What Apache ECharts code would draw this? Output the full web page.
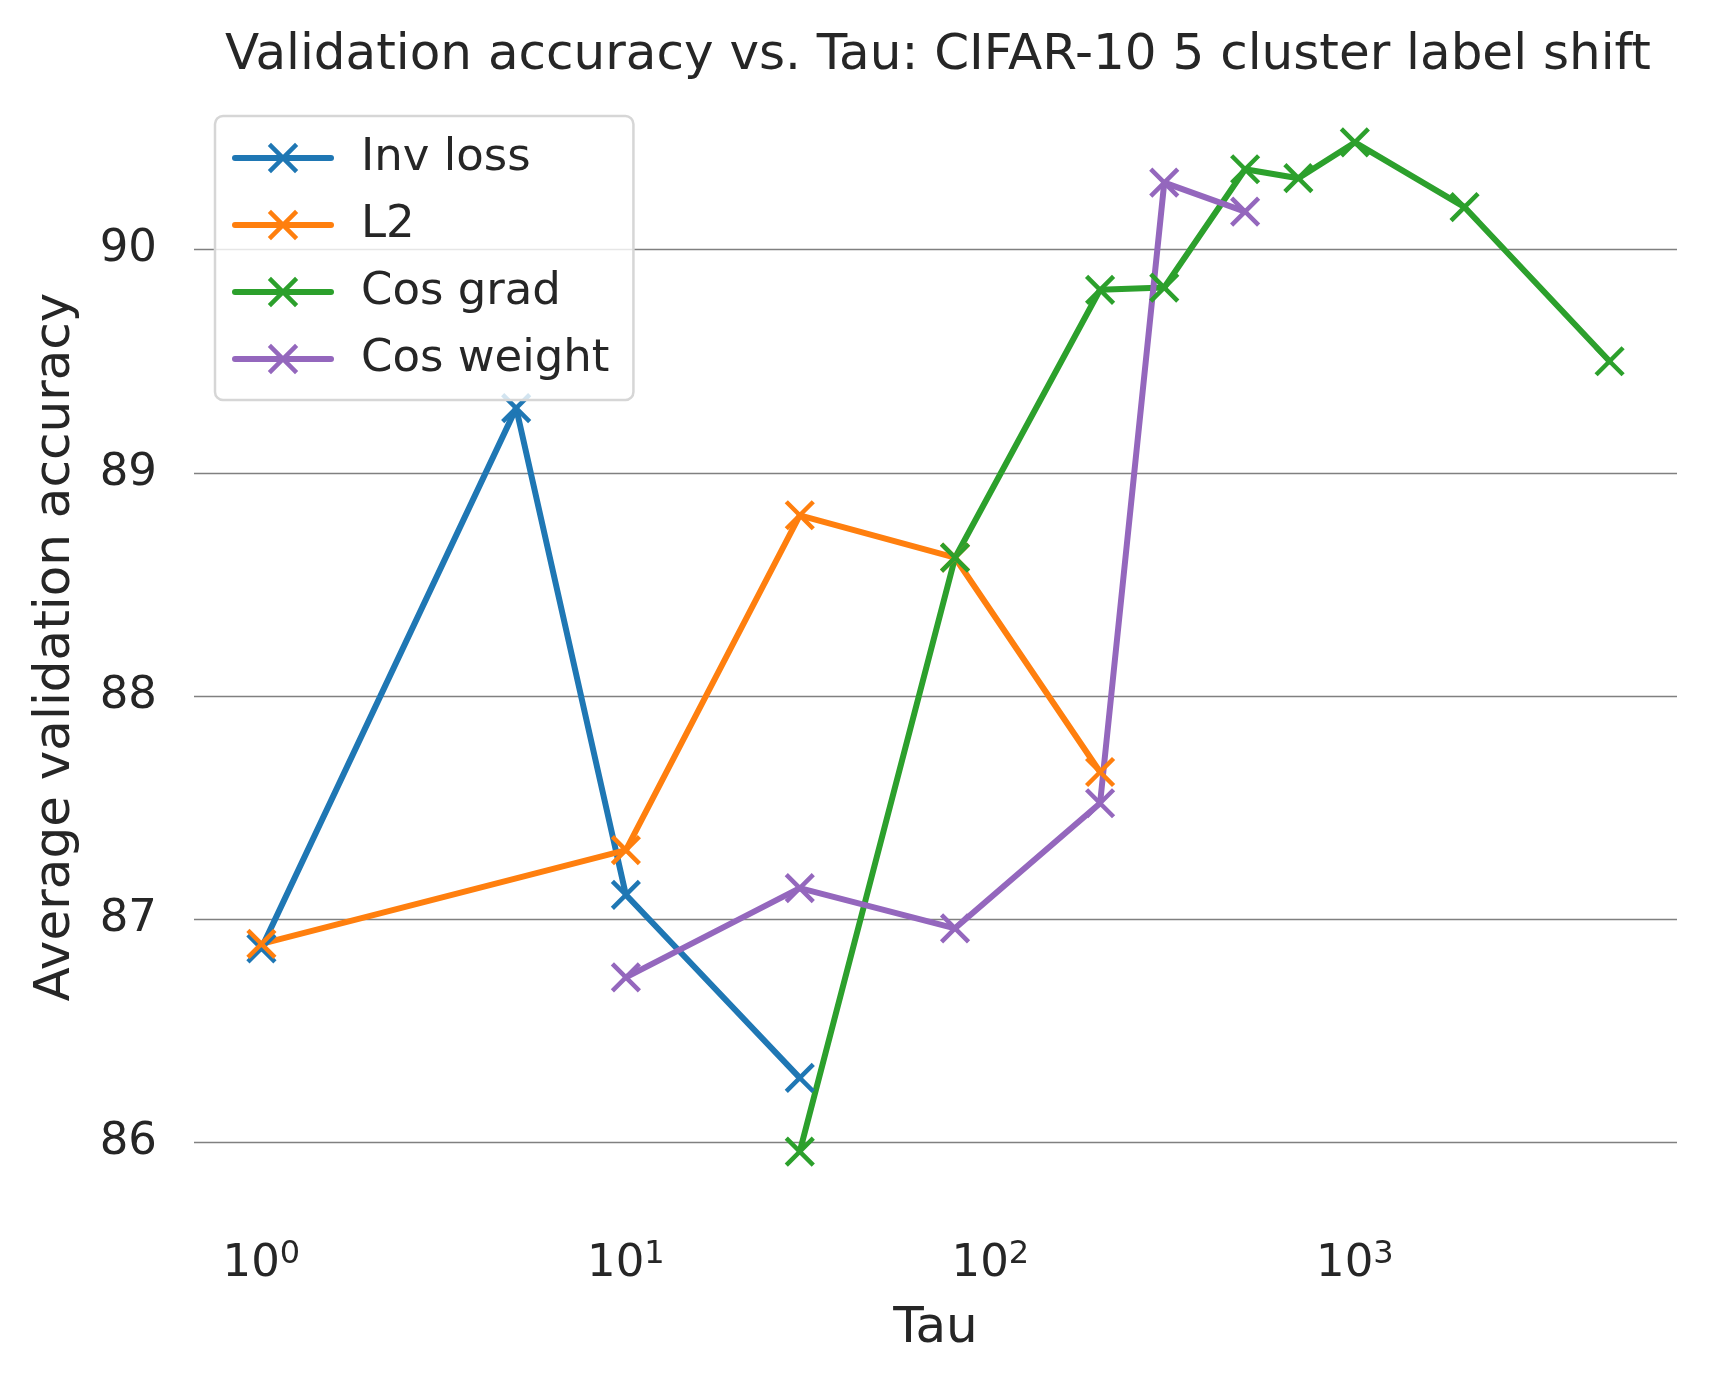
<!DOCTYPE html>
<html>
<head>
<meta charset="utf-8">
<script src="https://cdn.jsdelivr.net/npm/echarts@6/dist/echarts.min.js"></script>
<style>
html,body{margin:0;padding:0;background:#fff;}
#chart{width:1710px;height:1382px;}
</style>
</head>
<body>
<div id="chart"></div>
<script>
// ---- Data ----
const seriesNames = ['Inv loss', 'L2', 'Cos grad', 'Cos weight'];
const invLossTau = [1, 5, 10, 30];
const invLossAcc = [86.87, 89.29, 87.11, 86.29];
const l2Tau = [1, 10, 30, 80, 200];
const l2Acc = [86.89, 87.31, 88.81, 88.62, 87.66];
const cosGradTau = [30, 80, 200, 300, 500, 700, 1000, 2000, 5000];
const cosGradAcc = [85.96, 88.62, 89.82, 89.83, 90.36, 90.32, 90.48, 90.19, 89.50];
const cosWeightTau = [10, 30, 80, 200, 300, 500];
const cosWeightAcc = [86.74, 87.14, 86.96, 87.52, 90.30, 90.17];
const colors = ['#1f77b4', '#ff7f0e', '#2ca02c', '#9467bd'];
const titleText = 'Validation accuracy vs. Tau: CIFAR-10 5 cluster label shift';
const xName = 'Tau';
const yName = 'Average validation accuracy';

const allTau = [invLossTau, l2Tau, cosGradTau, cosWeightTau];
const allAcc = [invLossAcc, l2Acc, cosGradAcc, cosWeightAcc];

// matplotlib-like 5% margins
const flatAcc = [].concat(...allAcc);
const flatTau = [].concat(...allTau);
const yLo = Math.min(...flatAcc), yHi = Math.max(...flatAcc);
const yPad = (yHi - yLo) * 0.05;
const lxLo = Math.log10(Math.min(...flatTau)), lxHi = Math.log10(Math.max(...flatTau));
const xPad = (lxHi - lxLo) * 0.05;

const FONT = 'DejaVu Sans';
const TXT = '#262626';
const X_SYMBOL = 'path://M0,0L10,10M0,10L10,0';

const series = seriesNames.map((name, i) => ({
  name: name,
  type: 'line',
  data: allTau[i].map((t, j) => [t, allAcc[i][j]]),
  symbol: X_SYMBOL,
  symbolSize: 27,
  showAllSymbol: true,
  lineStyle: { color: colors[i], width: 6, cap: 'round', join: 'round' },
  itemStyle: { color: colors[i], borderColor: colors[i], borderWidth: 4.5 },
  emphasis: { disabled: true },
  animation: false
}));

const chart = echarts.init(document.getElementById('chart'), null, { renderer: 'canvas' });
chart.setOption({
  backgroundColor: '#ffffff',
  animation: false,
  title: {
    text: titleText,
    left: 933,
    top: 26,
    textAlign: 'center',
    textStyle: { fontFamily: FONT, fontSize: 50, fontWeight: 'normal', color: TXT, lineHeight: 50 }
  },
  grid: { left: 194, right: 33, top: 92, bottom: 180, containLabel: false },
  legend: {
    orient: 'vertical',
    left: 215,
    top: 116,
    padding: [17, 24, 16, 17],
    itemGap: 17,
    itemWidth: 96,
    itemHeight: 34,
    backgroundColor: 'rgba(255,255,255,0.8)',
    borderColor: '#d6d6d6',
    borderWidth: 2.5,
    borderRadius: 8,
    data: seriesNames,
    lineStyle: { width: 6, cap: 'round' },
    itemStyle: { borderWidth: 4.5 },
    textStyle: { fontFamily: FONT, fontSize: 45, color: TXT, lineHeight: 50, padding: [0, 0, 0, 25] }
  },
  xAxis: {
    type: 'log',
    logBase: 10,
    min: Math.pow(10, lxLo - xPad),
    max: Math.pow(10, lxHi + xPad),
    name: xName,
    nameLocation: 'middle',
    nameGap: 102,
    nameTextStyle: { fontFamily: FONT, fontSize: 50, color: TXT },
    axisLine: { show: false },
    axisTick: { show: false },
    splitLine: { show: false },
    minorTick: { show: false },
    axisLabel: {
      showMinLabel: false,
      showMaxLabel: false,
      margin: 37,
      fontFamily: FONT,
      color: TXT,
      formatter: function (v) {
        const e = Math.round(Math.log10(v));
        return '{b|10}{s|' + String(e) + '}';
      },
      rich: {
        b: { fontFamily: FONT, fontSize: 45, color: TXT, lineHeight: 50 },
        s: { fontFamily: FONT, fontSize: 32, color: TXT, lineHeight: 26, verticalAlign: 'top' }
      }
    }
  },
  yAxis: {
    type: 'value',
    min: yLo - yPad,
    max: yHi + yPad,
    name: yName,
    nameLocation: 'middle',
    nameGap: 113,
    nameTextStyle: { fontFamily: FONT, fontSize: 50, color: TXT },
    axisLine: { show: false },
    axisTick: { show: false },
    splitLine: { show: true, showMinLine: false, showMaxLine: false, lineStyle: { color: '#808080', width: 1.3 } },
    axisLabel: {
      showMinLabel: false,
      showMaxLabel: false,
      margin: 37,
      fontFamily: FONT,
      fontSize: 45,
      color: TXT
    }
  },
  series: series
});
</script>
</body>
</html>
